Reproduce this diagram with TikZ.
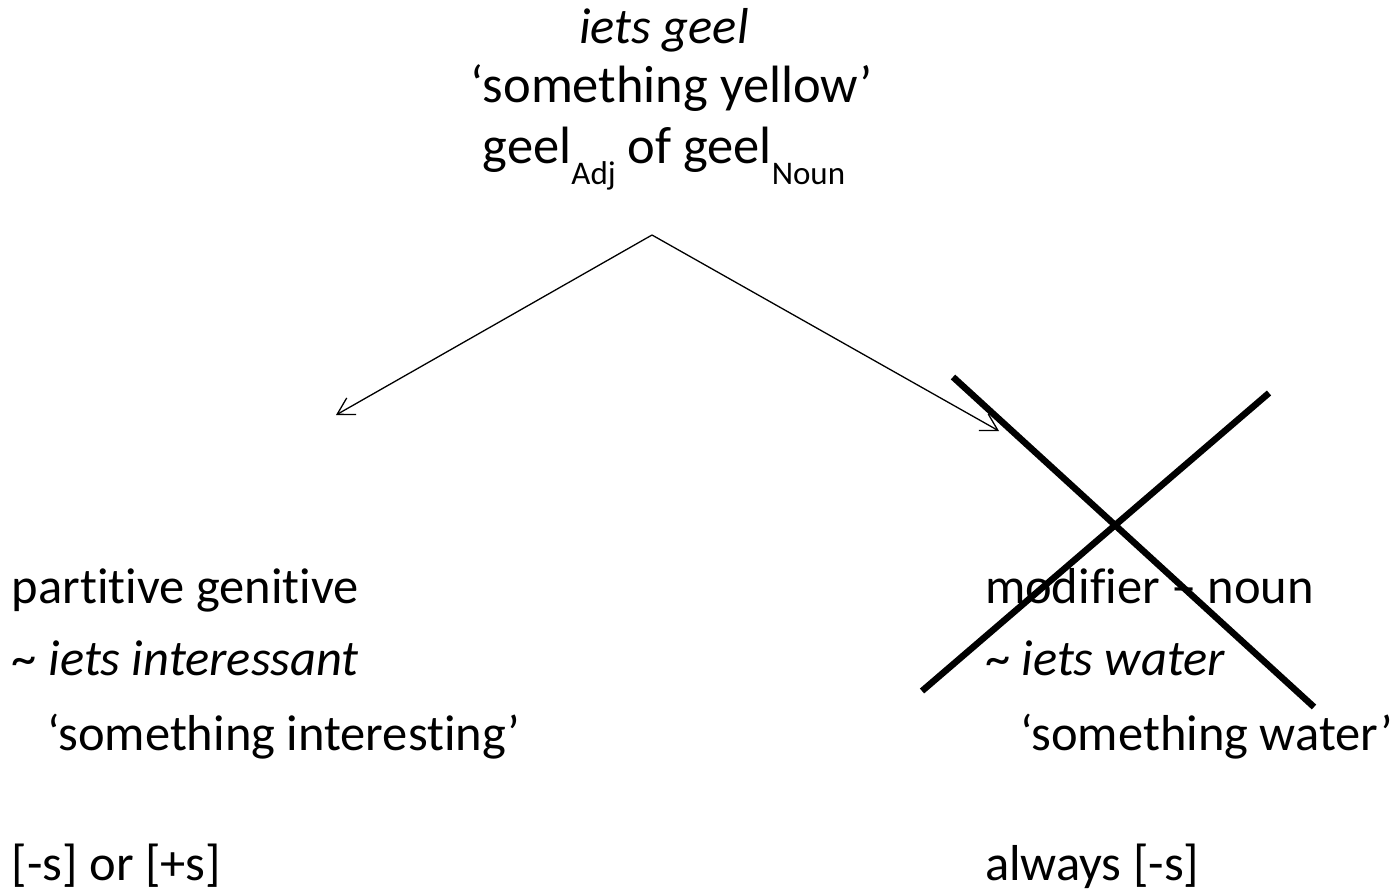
\documentclass[tikz,border=0pt]{standalone}
\usepackage{fontspec}
\setmainfont[Ligatures={NoCommon,NoRare,NoContextual}]{Carlito}
\usetikzlibrary{arrows.meta}

\newcommand{\lbl}[1]{\raisebox{-0.4em}{\fontsize{33}{33}\selectfont #1}}

\tikzset{
  txt/.style={inner sep=0pt, outer sep=0pt, font=\fontsize{50.5}{60}\selectfont},
  toptxt/.style={txt, font=\fontsize{52.5}{60}\selectfont},
  branch/.style={line width=1.3pt, -{Straight Barb[angle=60:19pt, line width=1.3pt]}},
  cross/.style={line width=6.5pt, line cap=butt}
}

\begin{document}
\begin{tikzpicture}[x=1pt, y=-1pt]
  \useasboundingbox (0,0) rectangle (1399,891);

  % heading
  \node[txt, anchor=base] (head)  at (664,44)  {\itshape iets geel};
  \node[toptxt, anchor=base] (gloss) at (672,102) {‘something yellow’};
  \node[toptxt, anchor=base] (cat)   at (664,163) {geel\lbl{Adj} of geel\lbl{Noun}};

  % branching point and the two targets
  \coordinate (apex)  at (652,235);
  \coordinate (ltip)  at (336,415);
  \coordinate (rtip)  at (999,431);
  \draw[branch] (apex) -- (ltip);
  \draw[branch] (apex) -- (rtip);

  % left reading
  \node[txt, anchor=base west] (l1) at (12,603) {partitive genitive};
  \node[txt, anchor=base west] (l2) at (12,675) {\char"007E{} \itshape iets interessant};
  \node[txt, anchor=base west] (l3) at (47,750) {‘something interesting’};
  \node[txt, anchor=base west] (l4) at (12,880) {[-s] or [+s]};

  % right reading
  \node[txt, anchor=base west] (r1) at (985,603) {modifier – noun};
  \node[txt, anchor=base west] (r2) at (985,675) {\char"007E{} \itshape iets water};
  \node[txt, anchor=base west] (r3) at (1020,750) {‘something water’};
  \node[txt, anchor=base west] (r4) at (985,880) {always [-s]};

  % crossed out
  \coordinate (xa) at (953,377);
  \coordinate (xb) at (1314,707);
  \coordinate (xc) at (1269,393);
  \coordinate (xd) at (922,691);
  \draw[cross] (xa) -- (xb);
  \draw[cross] (xc) -- (xd);
\end{tikzpicture}
\end{document}
